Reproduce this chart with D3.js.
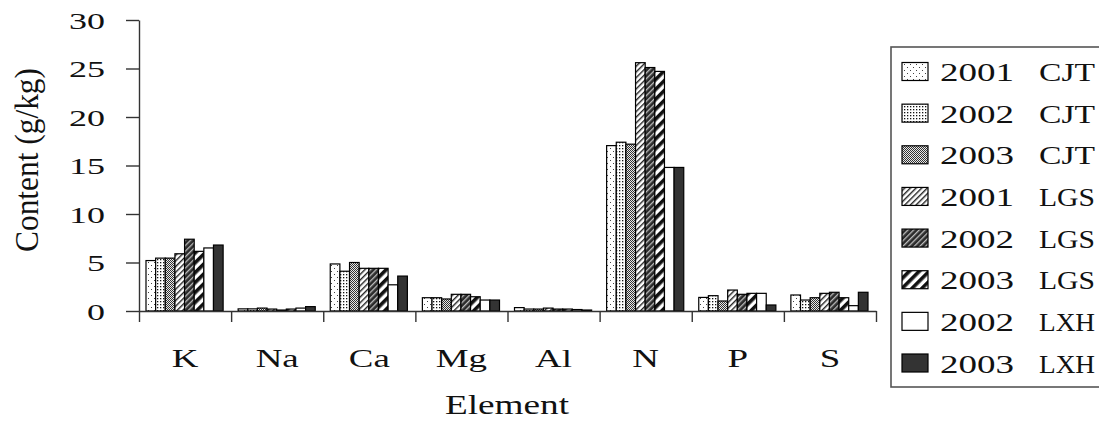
<!DOCTYPE html>
<html>
<head>
<meta charset="utf-8">
<script src="https://cdn.jsdelivr.net/npm/d3@7"></script>
<style>
  html, body { margin: 0; padding: 0; background: #fff; }
  svg { display: block; }
  text { font-family: "Liberation Serif", "Times New Roman", serif; fill: #111; }
</style>
</head>
<body>
<svg id="chart" width="1099" height="423"></svg>
<script>
// ---------------- data ----------------
const categories = ["K", "Na", "Ca", "Mg", "Al", "N", "P", "S"];
const seriesYears = ["2001", "2002", "2003", "2001", "2002", "2003", "2002", "2003"];
const seriesSites = ["CJT", "CJT", "CJT", "LGS", "LGS", "LGS", "LXH", "LXH"];
const v2001CJT = [5.2, 0.22, 4.85, 1.37, 0.35, 17.05, 1.4, 1.65];
const v2002CJT = [5.45, 0.22, 4.1, 1.37, 0.2, 17.4, 1.58, 1.13];
const v2003CJT = [5.45, 0.3, 5.0, 1.24, 0.2, 17.2, 1.03, 1.37];
const v2001LGS = [5.9, 0.2, 4.4, 1.72, 0.3, 25.6, 2.16, 1.82];
const v2002LGS = [7.4, 0.1, 4.4, 1.72, 0.2, 25.1, 1.72, 1.93];
const v2003LGS = [6.15, 0.2, 4.4, 1.47, 0.2, 24.7, 1.82, 1.37];
const v2002LXH = [6.5, 0.3, 2.7, 1.13, 0.15, 14.8, 1.82, 0.55];
const v2003LXH = [6.8, 0.45, 3.6, 1.13, 0.1, 14.8, 0.62, 1.93];
const seriesValues = [v2001CJT, v2002CJT, v2003CJT, v2001LGS, v2002LGS, v2003LGS, v2002LXH, v2003LXH];
const yTicks = [0, 5, 10, 15, 20, 25, 30];
const yTitle = "Content (g/kg)";
const xTitle = "Element";

// ---------------- setup ----------------
const svg = d3.select("#chart");
const SX = 1.42; // horizontal text stretch of the reference
const seriesKeys = seriesYears.map((y, i) => "s" + i);

const defs = svg.append("defs");
function pat(id, w, h, rot) {
  const p = defs.append("pattern").attr("id", id).attr("patternUnits", "userSpaceOnUse")
    .attr("width", w).attr("height", h);
  if (rot) p.attr("patternTransform", `rotate(${rot})`);
  return p;
}
// 1: sparse dots
let p = pat("p0", 6, 6);
p.append("rect").attr("width", 6).attr("height", 6).attr("fill", "#fff");
p.append("rect").attr("x", 1).attr("y", 1).attr("width", 1).attr("height", 1).attr("fill", "#444");
p.append("rect").attr("x", 4).attr("y", 4).attr("width", 1).attr("height", 1).attr("fill", "#444");
// 2: dense dots
p = pat("p1", 3, 3);
p.append("rect").attr("width", 3).attr("height", 3).attr("fill", "#fff");
p.append("rect").attr("x", 1).attr("y", 1).attr("width", 1.3).attr("height", 1.3).attr("fill", "#111");
// 3: grey checker
p = pat("p2", 2, 2);
p.append("rect").attr("width", 2).attr("height", 2).attr("fill", "#e8e8e8");
p.append("rect").attr("x", 0).attr("y", 0).attr("width", 1).attr("height", 1).attr("fill", "#333");
p.append("rect").attr("x", 1).attr("y", 1).attr("width", 1).attr("height", 1).attr("fill", "#333");
// 4: light diagonal hatch
p = pat("p3", 4, 4, 45);
p.append("rect").attr("width", 4).attr("height", 4).attr("fill", "#fff");
p.append("rect").attr("width", 1.4).attr("height", 4).attr("fill", "#222");
// 5: dark diagonal hatch
p = pat("p4", 4, 4, 45);
p.append("rect").attr("width", 4).attr("height", 4).attr("fill", "#2a2a2a");
p.append("rect").attr("width", 1.3).attr("height", 4).attr("fill", "#bdbdbd");
// 6: bold diagonal hatch
p = pat("p5", 7, 7, 45);
p.append("rect").attr("width", 7).attr("height", 7).attr("fill", "#fff");
p.append("rect").attr("width", 3.6).attr("height", 7).attr("fill", "#111");

const fills = ["url(#p0)", "url(#p1)", "url(#p2)", "url(#p3)", "url(#p4)", "url(#p5)", "#ffffff", "#333333"];

// ---------------- scales ----------------
const y = d3.scaleLinear().domain([0, 30]).range([311, 20]);
const x = d3.scaleBand().domain(categories).range([139, 876]).paddingInner(0).paddingOuter(0);
const xs = d3.scaleBand().domain(seriesKeys).range([7, x.bandwidth() - 8]);
const xb = d3.scaleLinear().domain([0, categories.length]).range([139, 876]);

// ---------------- bars ----------------
const bars = svg.append("g");
seriesKeys.forEach((k, j) => {
  bars.selectAll(null).data(categories.map((c, i) => ({ c, v: seriesValues[j][i] })))
    .join("rect")
    .attr("x", d => x(d.c) + xs(k))
    .attr("y", d => y(d.v))
    .attr("width", xs.bandwidth())
    .attr("height", d => y(0) - y(d.v))
    .attr("fill", fills[j])
    .attr("stroke", "#000")
    .attr("stroke-width", 1.2);
});

// ---------------- axes ----------------
const yAxis = svg.append("g").attr("transform", "translate(139,0)")
  .call(d3.axisLeft(y).tickValues(yTicks).tickSize(13).tickSizeOuter(0));
yAxis.selectAll("path, line").attr("stroke", "#333").attr("stroke-width", 1.4);
yAxis.selectAll("text")
  .attr("font-size", 24).attr("font-family", "Liberation Serif")
  .attr("fill", "#111")
  .attr("x", -34 / 1.5).attr("dy", "0.34em")
  .attr("transform", "scale(1.5,1)");

const xAxis = svg.append("g").attr("transform", "translate(0,311)")
  .call(d3.axisBottom(xb).tickValues(d3.range(categories.length + 1)).tickFormat("").tickSize(11).tickSizeOuter(0));
xAxis.selectAll("path, line").attr("stroke", "#333").attr("stroke-width", 1.4);

const xLab = svg.append("g").attr("transform", "translate(0,311)")
  .call(d3.axisBottom(x).tickSize(0));
xLab.select(".domain").remove();
xLab.selectAll("text")
  .attr("font-size", 26).attr("font-family", "Liberation Serif").attr("fill", "#111")
  .attr("y", 56).attr("dy", 0)
  .attr("transform", `scale(${SX},1)`);

// axis titles
svg.append("g").attr("transform", "translate(507,414) scale(1.38,1)")
  .append("text").attr("text-anchor", "middle").attr("font-size", 27).text(xTitle);

svg.append("g").attr("transform", "translate(38,160) rotate(-90) scale(1,1.15)")
  .append("text").attr("text-anchor", "middle").attr("font-size", 29)
  .attr("textLength", 184).attr("lengthAdjust", "spacingAndGlyphs").text(yTitle);

// ---------------- legend ----------------
const lg = svg.append("g");
lg.append("rect").attr("x", 891).attr("y", 47).attr("width", 240).attr("height", 340)
  .attr("fill", "#fff").attr("stroke", "#555").attr("stroke-width", 1.6);
const legendY = d3.scaleLinear().domain([0, 7]).range([71.5, 363]);
seriesKeys.forEach((k, i) => {
  const cy = legendY(i);
  lg.append("rect").attr("x", 902).attr("y", cy - 9).attr("width", 26).attr("height", 18)
    .attr("fill", fills[i]).attr("stroke", "#000").attr("stroke-width", 1.2);
  const t = lg.append("text").attr("y", cy + 9.5).attr("font-size", 26);
  t.append("tspan").attr("x", 940).attr("textLength", 74).attr("lengthAdjust", "spacingAndGlyphs")
    .text(seriesYears[i]);
  t.append("tspan").attr("x", 1039).attr("textLength", 56).attr("lengthAdjust", "spacingAndGlyphs")
    .text(seriesSites[i]);
});
</script>
</body>
</html>
